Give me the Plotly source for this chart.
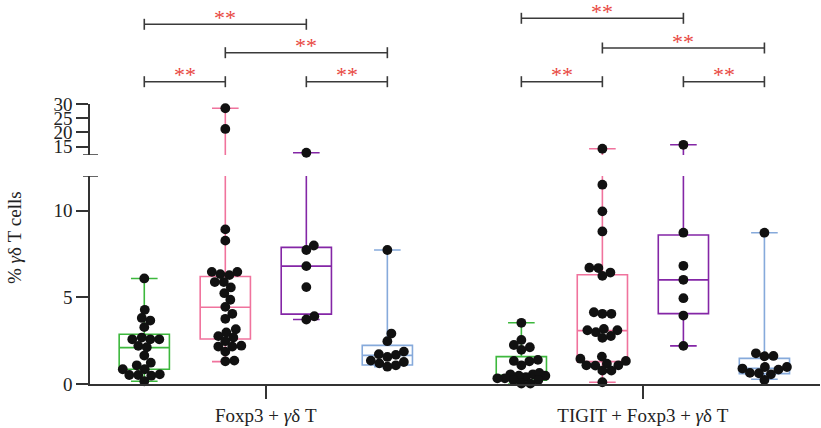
import plotly.graph_objects as go

# ---------------- data ----------------
group_labels = ["Foxp3 + <i>γ</i>δ T", "TIGIT + Foxp3 + <i>γ</i>δ T"]
series_colors = ["#3db83d", "#f0739d", "#8426a6", "#86aadb"]

foxp3_green = [6.09, 4.28, 3.66, 3.81, 3.28, 2.58, 2.58, 2.58, 2.68, 2.20, 2.12,
               1.64, 1.23, 0.85, 0.85, 1.08, 0.48, 0.52, 0.56, 0.52, 0.16]
foxp3_pink = [28.5, 21.2, 8.92, 8.27, 6.47, 6.47, 6.34, 6.28, 5.88, 5.88, 5.57,
              5.24, 4.86, 4.45, 4.05, 3.76, 3.16, 2.97, 2.68, 2.76, 2.47, 2.16,
              2.21, 2.16, 1.87, 1.31, 1.35]
foxp3_purple = [12.8, 7.73, 7.99, 6.80, 5.59, 3.72, 3.91]
foxp3_blue = [7.73, 2.91, 2.47, 1.87, 1.72, 1.68, 1.56, 1.35, 1.19, 1.27, 1.08, 1.00]

tigit_green = [3.53, 2.54, 2.25, 2.12, 1.97, 1.39, 1.31, 1.33, 1.08, 0.48, 0.56,
               0.40, 0.48, 0.64, 0.56, 0.23, 0.33, 0.33, 0.23, 0.02, 0.02]
tigit_pink = [14.2, 11.5, 9.96, 8.80, 6.43, 6.69, 6.71, 6.24, 4.05, 4.14, 4.05,
              3.10, 2.77, 3.18, 2.66, 2.99, 3.10, 1.17, 1.08, 1.46, 1.58, 1.33,
              1.08, 0.77, 1.06, 0.77, 0.10]
tigit_purple = [15.6, 8.73, 6.82, 6.01, 4.95, 3.95, 2.20]
tigit_blue = [8.73, 1.60, 1.62, 1.77, 0.98, 0.89, 0.98, 0.83, 0.56, 0.62, 0.64, 0.23]

# box statistics (lower fence, q1, median, q3, upper fence)
foxp3_lower = [0.16, 1.29, 3.72, 1.00]
foxp3_q1 = [0.85, 2.60, 4.03, 1.10]
foxp3_median = [2.10, 4.43, 6.80, 1.65]
foxp3_q3 = [2.87, 6.20, 7.88, 2.23]
foxp3_upper = [6.09, 28.5, 12.8, 7.73]

tigit_lower = [0.00, 0.10, 2.20, 0.27]
tigit_q1 = [0.22, 1.29, 4.06, 0.60]
tigit_median = [0.50, 3.08, 6.01, 0.90]
tigit_q3 = [1.58, 6.30, 8.60, 1.48]
tigit_upper = [3.53, 14.2, 15.6, 8.73]

# significance comparisons: (box a, box b, level, label)
comparisons = [(0, 1, 0, "**"), (2, 3, 0, "**"), (1, 3, 1, "**"), (0, 2, 2, "**")]

y_ticks_low = [0, 5, 10]
y_ticks_high = [15, 20, 25, 30]
y_title = "% <i>γ</i>δ T cells"

# ---------------- layout constants ----------------
W, H = 821, 428
ML, MR, MT, MB = 90, 1, 0, 44
PW, PH = W - ML - MR, H - MT - MB
LOW_RANGE = [0, 12]
HIGH_RANGE = [12, 30]
LOW_PX = (384, 176)     # pixel y of bottom/top of lower axis
HIGH_PX = (155, 104)    # pixel y of bottom/top of upper axis
group_offsets = [0.0, 4.654]
box_pos = [1, 2, 3, 4]
X_RANGE = [0.33, 9.34]
PX_PER_X = PW / (X_RANGE[1] - X_RANGE[0])
FONT = "Liberation Serif"
DOT = 9.8
GAP = 8.6
MAX_SPREAD = 24.0

def to_paper(py):
    return (H - MB - py) / PH

def val_to_px(v):
    if v <= LOW_RANGE[1]:
        return LOW_PX[0] - (v - LOW_RANGE[0]) / (LOW_RANGE[1] - LOW_RANGE[0]) * (LOW_PX[0] - LOW_PX[1])
    return HIGH_PX[0] - (v - HIGH_RANGE[0]) / (HIGH_RANGE[1] - HIGH_RANGE[0]) * (HIGH_PX[0] - HIGH_PX[1])

def swarm(vals):
    placed = []
    offs = [0.0] * len(vals)
    order = sorted(range(len(vals)), key=lambda i: vals[i])
    cands = [0.0]
    k = 1
    while k * 0.5 <= MAX_SPREAD:
        cands += [k * 0.5, -k * 0.5]
        k += 1
    for i in order:
        y = val_to_px(vals[i])
        best, best_d = None, -1
        for s in cands:
            d = min([((s - px) ** 2 + (y - py) ** 2) ** 0.5 for px, py in placed] or [1e9])
            if d >= GAP:
                best = s
                break
            if d > best_d + 0.3:
                best, best_d = s, d
        placed.append((best, y))
        offs[i] = best / PX_PER_X
    return offs

groups_data = [
    ([foxp3_green, foxp3_pink, foxp3_purple, foxp3_blue],
     foxp3_lower, foxp3_q1, foxp3_median, foxp3_q3, foxp3_upper),
    ([tigit_green, tigit_pink, tigit_purple, tigit_blue],
     tigit_lower, tigit_q1, tigit_median, tigit_q3, tigit_upper),
]

fig = go.Figure()

for g, (series, lo, q1, med, q3, up) in enumerate(groups_data):
    for j in range(4):
        x = box_pos[j] + group_offsets[g]
        for yax in ["y", "y2"]:
            fig.add_trace(go.Box(
                x=[x], q1=[q1[j]], median=[med[j]], q3=[q3[j]],
                lowerfence=[lo[j]], upperfence=[up[j]],
                width=0.62, whiskerwidth=0.53, boxpoints=False,
                line=dict(color=series_colors[j], width=1.6),
                fillcolor="rgba(0,0,0,0)", yaxis=yax, showlegend=False,
                hoverinfo="skip"))
        vals = series[j]
        offs = swarm(vals)
        lx = [x + o for v, o in zip(vals, offs) if v <= LOW_RANGE[1]]
        ly = [v for v in vals if v <= LOW_RANGE[1]]
        hx = [x + o for v, o in zip(vals, offs) if v > LOW_RANGE[1]]
        hy = [v for v in vals if v > LOW_RANGE[1]]
        fig.add_trace(go.Scatter(x=lx, y=ly, mode="markers", yaxis="y",
                                 marker=dict(size=DOT, color="#111111"),
                                 showlegend=False, cliponaxis=False))
        if hx:
            fig.add_trace(go.Scatter(x=hx, y=hy, mode="markers", yaxis="y2",
                                     marker=dict(size=DOT, color="#111111"),
                                     showlegend=False, cliponaxis=False))

# significance brackets
level_px = [[81.7, 52.7, 24.3], [81.7, 48.0, 18.3]]
shapes = []
annotations = []
for g in range(2):
    for a, b, lev, lab in comparisons:
        xa = box_pos[a] + group_offsets[g]
        xb = box_pos[b] + group_offsets[g]
        py = level_px[g][lev]
        line = dict(color="#3a3a3a", width=1.6)
        shapes.append(dict(type="line", xref="x", yref="paper", x0=xa, x1=xb,
                           y0=to_paper(py), y1=to_paper(py), line=line))
        for xe in (xa, xb):
            shapes.append(dict(type="line", xref="x", yref="paper", x0=xe, x1=xe,
                               y0=to_paper(py - 5.5), y1=to_paper(py + 5.5), line=line))
        annotations.append(dict(x=(xa + xb) / 2, y=to_paper(py + 7.5), xref="x", yref="paper",
                                text=lab, showarrow=False, yanchor="bottom",
                                font=dict(family=FONT, size=22, color="#e8473f")))

# axis break marks
for yref, yv in (("y", LOW_RANGE[1]), ("y2", HIGH_RANGE[0])):
    shapes.append(dict(type="line", xref="paper", yref=yref, x0=-7 / PW, x1=8 / PW,
                       y0=yv, y1=yv, line=dict(color="#333333", width=1.5)))

annotations.append(dict(x=(14 - ML) / PW, y=to_paper(238), xref="paper", yref="paper",
                        xanchor="center", yanchor="middle",
                        text=y_title, textangle=-90, showarrow=False,
                        font=dict(family=FONT, size=19, color="#222222")))

axis_common = dict(showline=True, linecolor="#333333", linewidth=1.5, ticks="outside",
                   tickcolor="#333333", tickwidth=1.5, showgrid=False, zeroline=False,
                   automargin=False,
                   tickfont=dict(family=FONT, size=19, color="#222222"))

fig.update_layout(
    width=W, height=H, margin=dict(l=ML, r=MR, t=MT, b=MB, autoexpand=False),
    paper_bgcolor="white", plot_bgcolor="white", boxmode="overlay",
    xaxis=dict(range=X_RANGE, showline=True, linecolor="#333333", linewidth=1.5,
               ticks="outside", ticklen=13, tickcolor="#333333", tickwidth=1.5,
               tickvals=[2.5 + o for o in group_offsets], ticktext=group_labels,
               showgrid=False, zeroline=False, anchor="y", automargin=False,
               tickfont=dict(family=FONT, size=19, color="#222222")),
    yaxis=dict(domain=[to_paper(LOW_PX[0]), to_paper(LOW_PX[1])], range=LOW_RANGE,
               tickvals=y_ticks_low, ticklen=12, anchor="x", **axis_common),
    yaxis2=dict(domain=[to_paper(HIGH_PX[0]), to_paper(HIGH_PX[1])], range=HIGH_RANGE,
                tickvals=y_ticks_high, ticklen=12, anchor="x", **axis_common),
    shapes=shapes, annotations=annotations,
)

fig.write_html("out.html", config={"displayModeBar": False},
               post_script="document.body.style.margin='0';")
